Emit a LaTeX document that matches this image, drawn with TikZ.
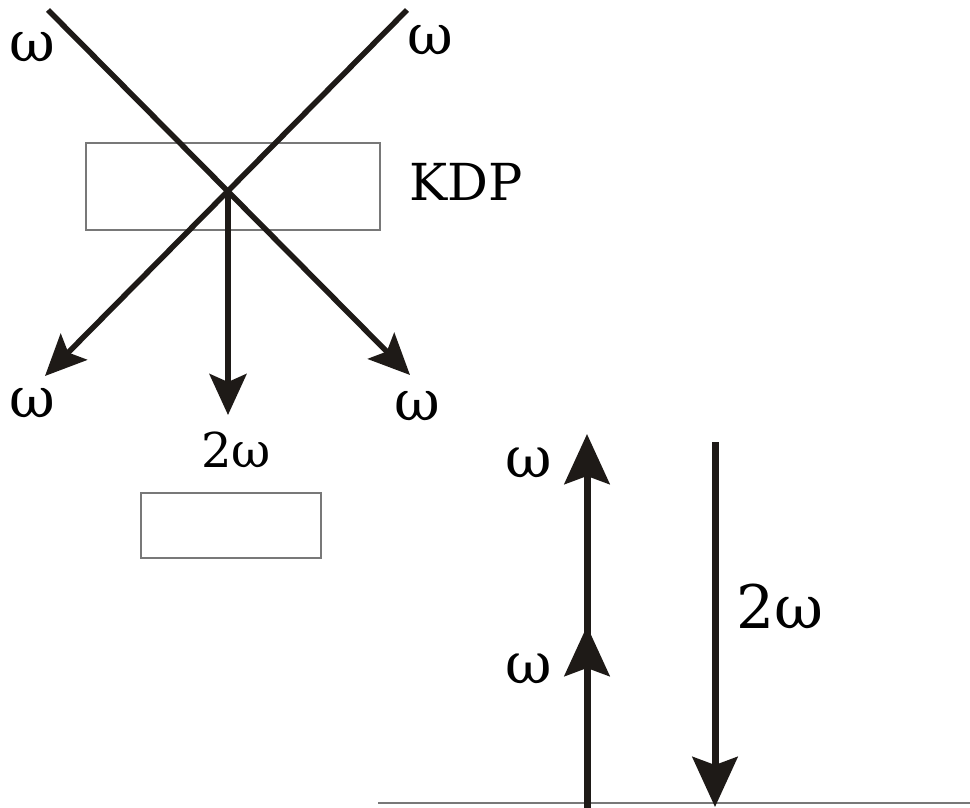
\documentclass[tikz,border=0pt]{standalone}
\usepackage{fontspec}
\setmainfont{DejaVu Serif}
\newfontfamily\labelfont{DejaVu Serif}
\usetikzlibrary{arrows.meta}
\definecolor{ink}{RGB}{30,26,23}
\definecolor{frame}{RGB}{120,120,120}
\begin{document}
\begin{tikzpicture}[x=1pt,y=-1pt,
  beam/.style={draw=ink,line width=5.5pt,-{Stealth[length=41pt,width=37pt,inset=8pt]}},
  bigbeam/.style={draw=ink,line width=7pt,-{Stealth[length=50pt,width=45pt,inset=8pt]}},
  crystal/.style={draw=frame,line width=1.3pt},
  lbl/.style={inner sep=0pt,anchor=base,text=black},
  big/.style={font=\labelfont\fontsize{56}{60}\selectfont},
]
\useasboundingbox (0,0) rectangle (970,808);

% crystal plates
\draw[crystal] (86,143) rectangle (380,230);
\draw[crystal] (141,493) rectangle (321,558);
% surface line
\coordinate (sL) at (378,803);
\coordinate (sR) at (970,803);
\draw[frame,line width=1.3pt] (sL) -- (sR);

% non-collinear beams through the crystal
\coordinate (inA) at (48,10);
\coordinate (inB) at (407,10);
\coordinate (x) at (228,190);
\coordinate (outA) at (410,375);
\coordinate (outB) at (45,376);
\coordinate (outC) at (228,415);
\draw[beam] (inA) -- (outA);
\draw[beam] (inB) -- (outB);
\draw[beam] (x) -- (outC);

% collinear beams
\coordinate (u0) at (587,810);
\coordinate (u1) at (587,626);
\coordinate (u2) at (587,434);
\draw[bigbeam] (u0) -- (u2);
\draw[bigbeam] (u0) -- (u1);
\coordinate (d0) at (715,442);
\coordinate (d1) at (715,807);
\draw[bigbeam] (d0) -- (d1);

% labels
\node[lbl,big] (w1) at (32,62) {ω};
\node[lbl,big] (w2) at (430,55) {ω};
\node[lbl,big] (w3) at (32,417) {ω};
\node[lbl,big] (w4) at (417,420) {ω};
\node[lbl,font=\labelfont\fontsize{51}{60}\selectfont] (kdp) at (466,200) {KDP};
\node[lbl,font=\labelfont\fontsize{48}{56}\selectfont] (sh) at (236,467) {2ω};
\node[lbl,font=\labelfont\fontsize{57}{70}\selectfont] (w5) at (529,477) {ω};
\node[lbl,font=\labelfont\fontsize{57}{70}\selectfont] (w6) at (529,683) {ω};
\node[lbl,font=\labelfont\fontsize{60}{70}\selectfont] (sh2) at (780,628) {2ω};
\end{tikzpicture}
\end{document}
